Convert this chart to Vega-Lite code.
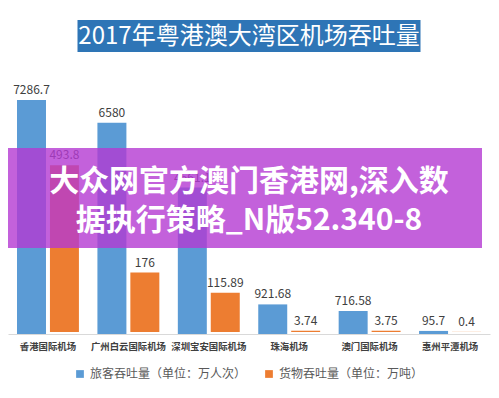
{
  "$schema": "https://vega.github.io/schema/vega-lite/v6.json",
  "background": "white",
  "padding": {"left": 8, "top": 20, "right": 9, "bottom": 0},
  "config": {"font": "Noto Sans CJK SC", "view": {"stroke": null}, "legend": {"layout": {"bottom": {"anchor": "middle"}}}},
  "spacing": 10,
  "center": true,
  "vconcat": [
    {
      "width": 343,
      "height": 32,
      "view": {"fill": "#2e75b6", "stroke": null},
      "data": {"values": [{"title": "2017年粤港澳大湾区机场吞吐量"}]},
      "mark": {"type": "text", "color": "white", "fontSize": 24, "baseline": "middle", "dy": 1},
      "encoding": {"text": {"field": "title", "type": "nominal"}}
    },
    {
      "width": 482,
      "height": 272,
      "data": {
        "values": [
          {"airport": "香港国际机场", "series": "旅客吞吐量（单位：万人次）", "value": 7286.7},
          {"airport": "广州白云国际机场", "series": "旅客吞吐量（单位：万人次）", "value": 6580},
          {"airport": "深圳宝安国际机场", "series": "旅客吞吐量（单位：万人次）", "value": 4561.1},
          {"airport": "珠海机场", "series": "旅客吞吐量（单位：万人次）", "value": 921.68},
          {"airport": "澳门国际机场", "series": "旅客吞吐量（单位：万人次）", "value": 716.58},
          {"airport": "惠州平潭机场", "series": "旅客吞吐量（单位：万人次）", "value": 95.7},
          {"airport": "香港国际机场", "series": "货物吞吐量（单位：万吨）", "value": 493.8},
          {"airport": "广州白云国际机场", "series": "货物吞吐量（单位：万吨）", "value": 176},
          {"airport": "深圳宝安国际机场", "series": "货物吞吐量（单位：万吨）", "value": 115.89},
          {"airport": "珠海机场", "series": "货物吞吐量（单位：万吨）", "value": 3.74},
          {"airport": "澳门国际机场", "series": "货物吞吐量（单位：万吨）", "value": 3.75},
          {"airport": "惠州平潭机场", "series": "货物吞吐量（单位：万吨）", "value": 0.4}
        ]
      },
      "resolve": {"scale": {"y": "independent"}},
      "layer": [
        {
          "layer": [
            {
              "transform": [{"filter": {"field": "series", "equal": "旅客吞吐量（单位：万人次）"}}],
              "mark": {"type": "bar"},
              "encoding": {
                "x": {"field": "airport", "type": "nominal", "sort": null, "title": null,
                  "scale": {"paddingInner": 0.23, "paddingOuter": 0.112},
                  "axis": {"labelAngle": 0, "ticks": false, "domainColor": "#d9d9d9", "labelPadding": 8, "labelFontSize": 9.4, "labelColor": "#404040", "labelFontWeight": "bold"}},
                "xOffset": {"field": "series", "type": "nominal", "sort": null,
                  "scale": {"domain": ["旅客吞吐量（单位：万人次）", "货物吞吐量（单位：万吨）"], "paddingInner": 0.12, "paddingOuter": 0}},
                "y": {"field": "value", "type": "quantitative", "scale": {"domain": [0, 8470], "nice": false}, "axis": null},
                "color": {"field": "series", "type": "nominal",
                  "scale": {"domain": ["旅客吞吐量（单位：万人次）", "货物吞吐量（单位：万吨）"], "range": ["#5b9bd5", "#ed7d31"]},
                  "legend": {"orient": "bottom", "direction": "horizontal", "title": null, "symbolType": "square", "symbolSize": 60, "symbolStrokeWidth": 0, "labelFontSize": 12, "labelColor": "#595959", "columnPadding": 16, "offset": 17}}
              }
            },
            {
              "transform": [{"filter": {"field": "series", "equal": "旅客吞吐量（单位：万人次）"}}],
              "mark": {"type": "text", "baseline": "alphabetic", "dy": -6, "fontSize": 12, "color": "#404040"},
              "encoding": {
                "x": {"field": "airport", "type": "nominal", "sort": null},
                "xOffset": {"field": "series", "type": "nominal", "sort": null,
                  "scale": {"domain": ["旅客吞吐量（单位：万人次）", "货物吞吐量（单位：万吨）"], "paddingInner": 0.12, "paddingOuter": 0}},
                "y": {"field": "value", "type": "quantitative"},
                "text": {"field": "value", "type": "nominal"}
              }
            }
          ]
        },
        {
          "layer": [
            {
              "transform": [{"filter": {"field": "series", "equal": "货物吞吐量（单位：万吨）"}}],
              "mark": {"type": "bar", "yOffset": -2},
              "encoding": {
                "x": {"field": "airport", "type": "nominal", "sort": null},
                "xOffset": {"field": "series", "type": "nominal", "sort": null,
                  "scale": {"domain": ["旅客吞吐量（单位：万人次）", "货物吞吐量（单位：万吨）"], "paddingInner": 0.12, "paddingOuter": 0}},
                "y": {"field": "value", "type": "quantitative", "scale": {"domain": [0, 805], "nice": false}, "axis": null},
                "color": {"field": "series", "type": "nominal"}
              }
            },
            {
              "transform": [{"filter": {"field": "series", "equal": "货物吞吐量（单位：万吨）"}}],
              "mark": {"type": "text", "baseline": "alphabetic", "dy": -8, "fontSize": 12, "color": "#404040"},
              "encoding": {
                "x": {"field": "airport", "type": "nominal", "sort": null},
                "xOffset": {"field": "series", "type": "nominal", "sort": null,
                  "scale": {"domain": ["旅客吞吐量（单位：万人次）", "货物吞吐量（单位：万吨）"], "paddingInner": 0.12, "paddingOuter": 0}},
                "y": {"field": "value", "type": "quantitative"},
                "text": {"field": "value", "type": "nominal"}
              }
            }
          ]
        },
        {
          "data": {"values": [{"note": "watermark"}]},
          "layer": [
            {
              "mark": {"type": "rect", "color": "#b43ad2", "opacity": 0.8, "xOffset": -8, "x2Offset": 9},
              "encoding": {
                "y": {"datum": 5792, "type": "quantitative", "scale": {"domain": [0, 8470], "nice": false}, "axis": null},
                "y2": {"datum": 2678}
              }
            },
            {
              "mark": {"type": "text", "color": "white", "fontSize": 30, "fontWeight": "bold", "baseline": "middle", "lineHeight": 39,
                "text": ["大众网官方澳门香港网,深入数", "据执行策略_N版52.340-8"]},
              "encoding": {
                "y": {"datum": 4733, "type": "quantitative"}
              }
            }
          ]
        }
      ]
    }
  ]
}
